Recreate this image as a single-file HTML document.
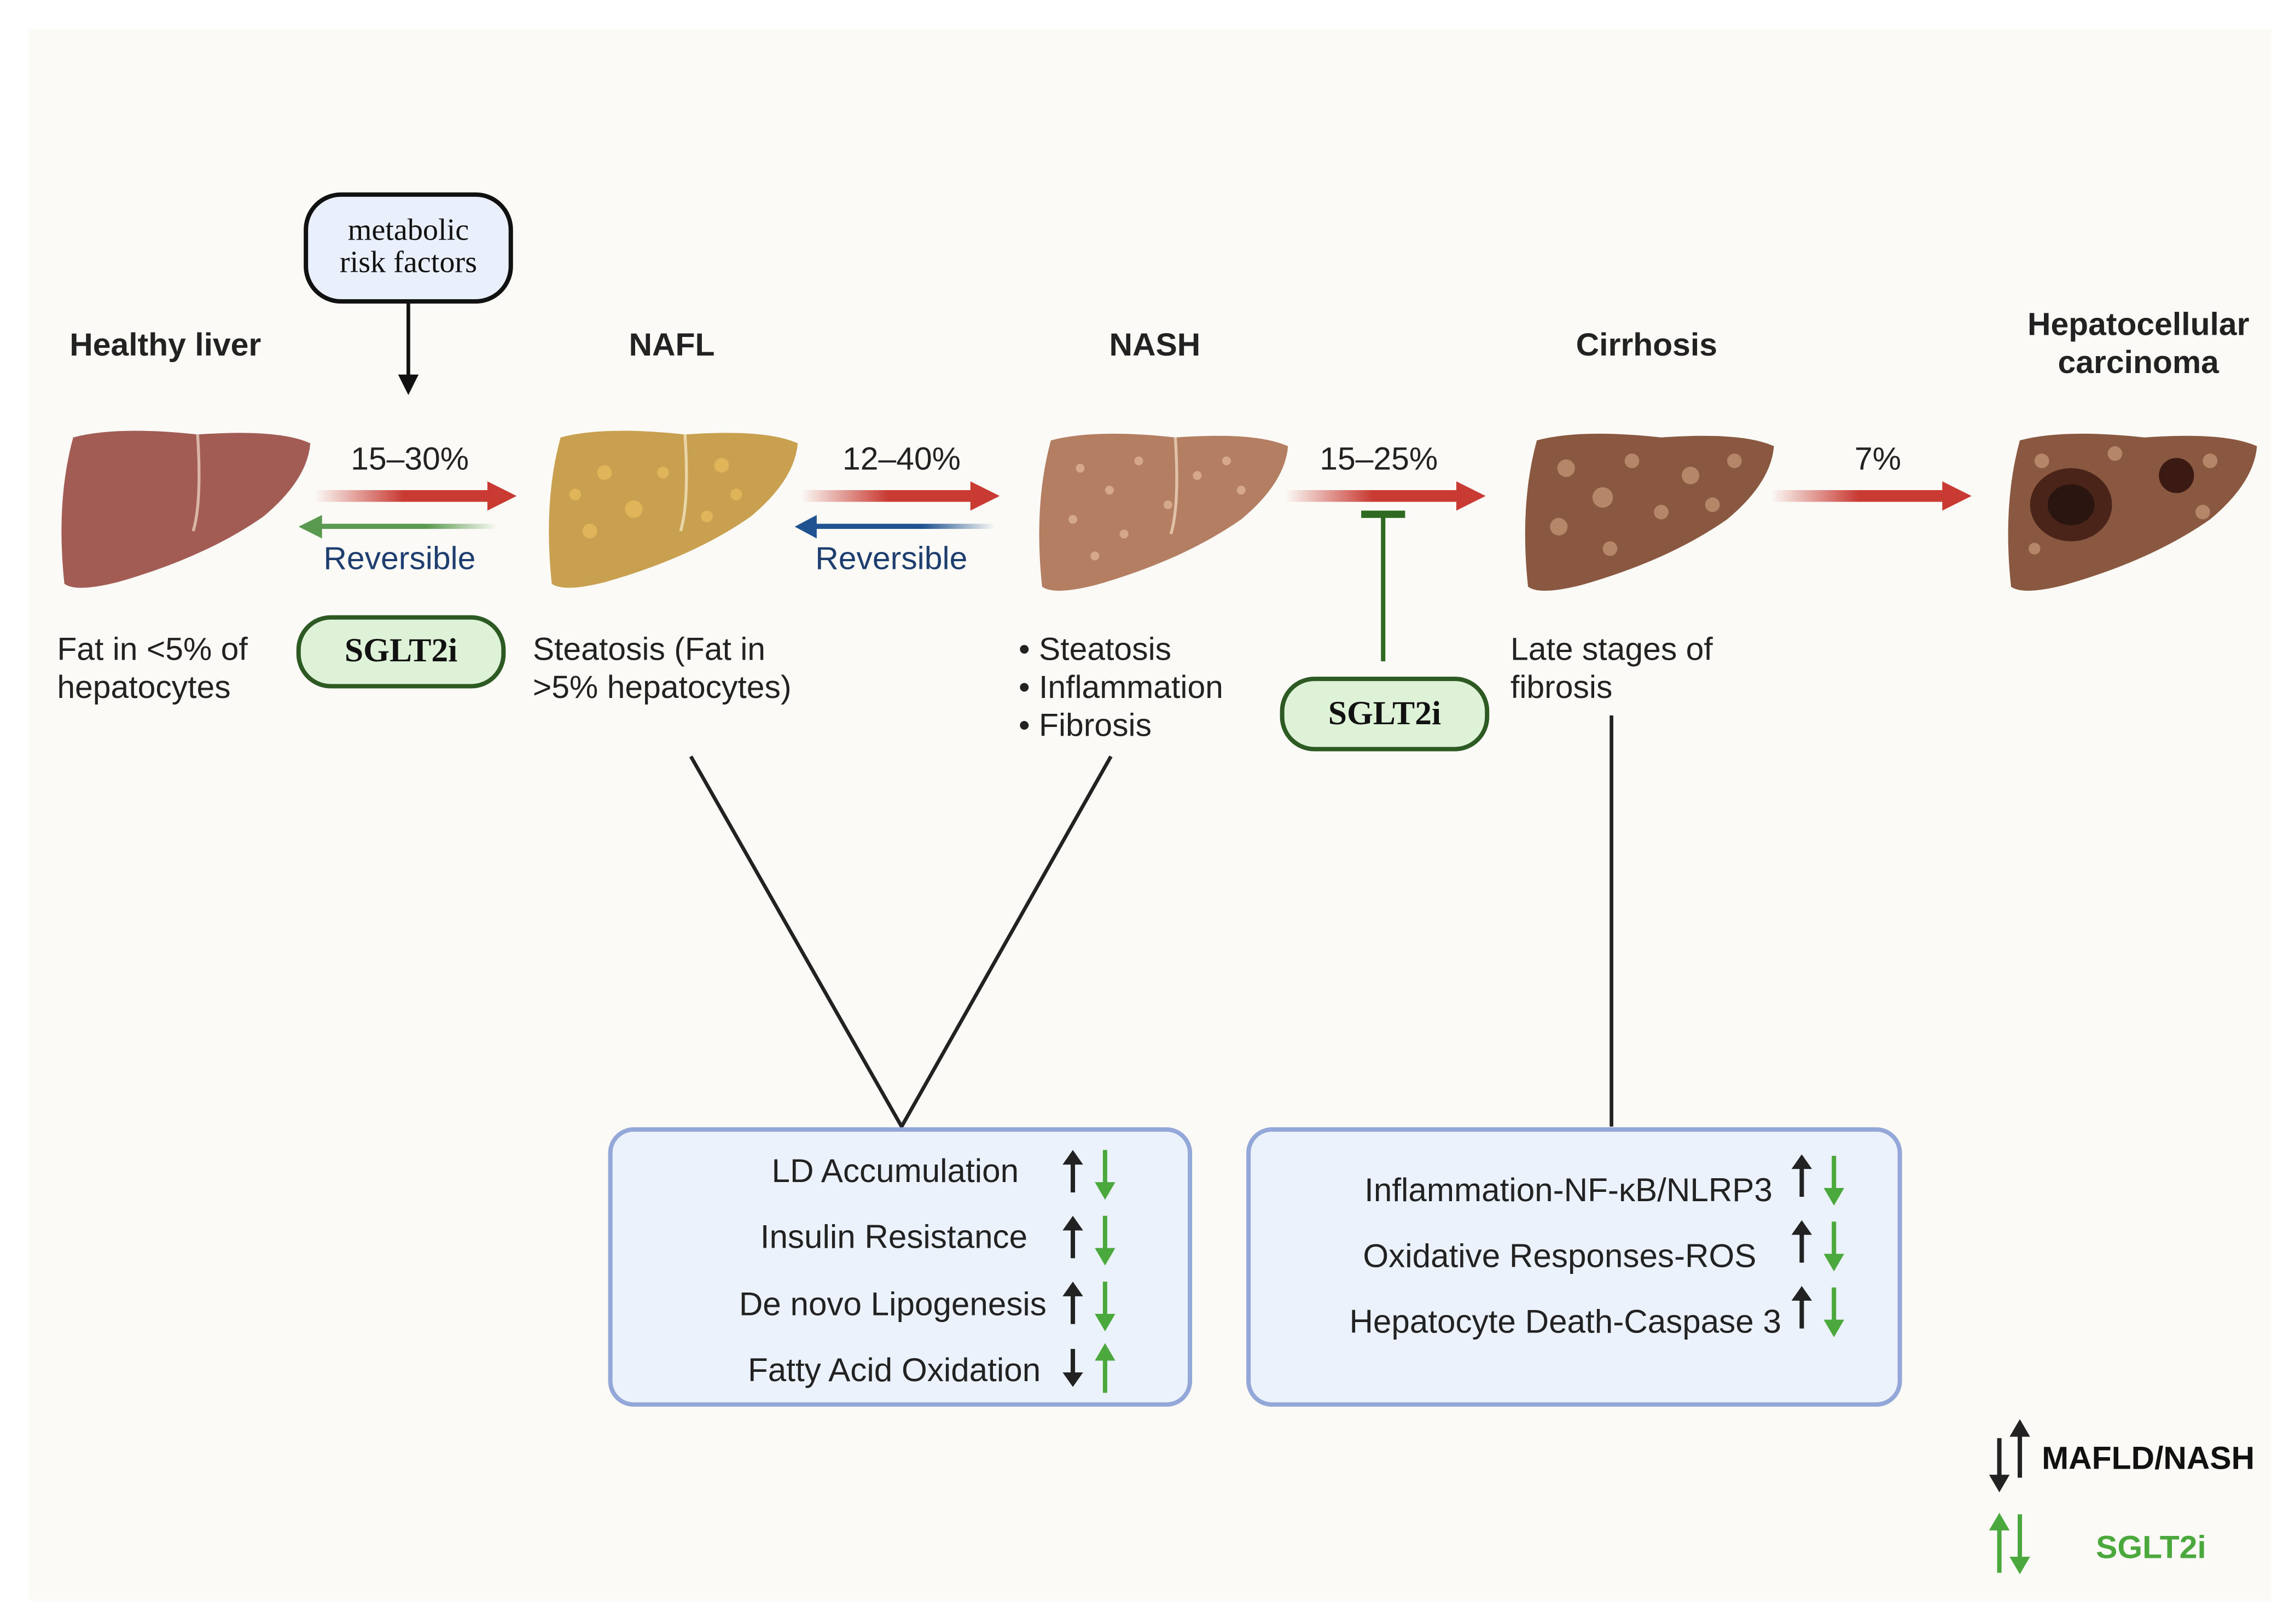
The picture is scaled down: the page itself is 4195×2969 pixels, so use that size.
<!DOCTYPE html>
<html><head><meta charset="utf-8"><style>
html,body{margin:0;padding:0;background:#fff;}
svg{display:block;}
text{font-family:"Liberation Sans",sans-serif;}
.s{font-family:"Liberation Serif",serif;}
</style></head><body>
<svg width="4195" height="2969" viewBox="0 0 1568 1110" preserveAspectRatio="none" xmlns="http://www.w3.org/2000/svg">
<defs>
<linearGradient id="rg" x1="0" x2="1"><stop offset="0" stop-color="#c83a32" stop-opacity="0"/><stop offset="0.5" stop-color="#c83a32"/><stop offset="1" stop-color="#c83a32"/></linearGradient>
<linearGradient id="gg" x1="0" x2="1"><stop offset="0" stop-color="#5a9a50"/><stop offset="0.6" stop-color="#5a9a50"/><stop offset="1" stop-color="#5a9a50" stop-opacity="0"/></linearGradient>
<linearGradient id="bg" x1="0" x2="1"><stop offset="0" stop-color="#1e5290"/><stop offset="0.6" stop-color="#1e5290"/><stop offset="1" stop-color="#1e5290" stop-opacity="0"/></linearGradient>
<path id="liver" d="M10,6 Q40,-2 95,4 Q150,0 172,10 Q170,35 140,60 Q100,88 40,105 Q12,112 4,106 Q-2,50 10,6 Z"/>
</defs>
<rect x="20" y="20" width="1532" height="1074" fill="#fbfaf6"/>

<g font-weight="bold" font-size="22" fill="#222" text-anchor="middle">
<text x="113" y="243">Healthy liver</text>
<text x="459" y="243">NAFL</text>
<text x="789" y="243">NASH</text>
<text x="1125" y="243">Cirrhosis</text>
<text x="1461" y="229">Hepatocellular</text>
<text x="1461" y="255">carcinoma</text>
</g>

<rect x="209" y="133" width="140" height="73" rx="24" fill="#e9f0fb" stroke="#111" stroke-width="3"/>
<text class="s" x="279" y="164" font-size="21" text-anchor="middle" fill="#111">metabolic</text>
<text class="s" x="279" y="186" font-size="21" text-anchor="middle" fill="#111">risk factors</text>
<line x1="279" y1="206" x2="279" y2="258" stroke="#111" stroke-width="2.5"/>
<polygon points="272,256 286,256 279,270" fill="#111"/>

<g transform="translate(40,293)"><use href="#liver" fill="#a35c54"/><path d="M95,4 Q98,50 92,70" stroke="#d9b6a8" stroke-width="2" fill="none"/></g>
<g transform="translate(373,293)"><use href="#liver" fill="#c9a050"/><path d="M95,4 Q98,50 92,70" stroke="#e8d6a8" stroke-width="2" fill="none"/>
<g fill="#e0b55a"><circle cx="40" cy="30" r="5"/><circle cx="60" cy="55" r="6"/><circle cx="120" cy="25" r="5"/><circle cx="130" cy="45" r="4"/><circle cx="30" cy="70" r="5"/><circle cx="80" cy="30" r="4"/><circle cx="110" cy="60" r="4"/><circle cx="20" cy="45" r="4"/></g></g>
<g transform="translate(708,295)"><use href="#liver" fill="#b47e62"/><path d="M95,4 Q98,50 92,70" stroke="#e0c2a8" stroke-width="2" fill="none"/>
<g fill="#d4a888"><circle cx="30" cy="25" r="3"/><circle cx="50" cy="40" r="3"/><circle cx="70" cy="20" r="3"/><circle cx="110" cy="30" r="3"/><circle cx="130" cy="20" r="3"/><circle cx="25" cy="60" r="3"/><circle cx="60" cy="70" r="3"/><circle cx="90" cy="50" r="3"/><circle cx="140" cy="40" r="3"/><circle cx="40" cy="85" r="3"/></g></g>
<g transform="translate(1040,295)"><use href="#liver" fill="#8a5840"/>
<g fill="#b68668"><circle cx="30" cy="25" r="6"/><circle cx="55" cy="45" r="7"/><circle cx="75" cy="20" r="5"/><circle cx="115" cy="30" r="6"/><circle cx="145" cy="20" r="5"/><circle cx="25" cy="65" r="6"/><circle cx="60" cy="80" r="5"/><circle cx="95" cy="55" r="5"/><circle cx="130" cy="50" r="5"/></g></g>
<g transform="translate(1370,295)"><use href="#liver" fill="#8a5840"/>
<g fill="#b68668"><circle cx="25" cy="20" r="5"/><circle cx="75" cy="15" r="5"/><circle cx="140" cy="20" r="5"/><circle cx="135" cy="55" r="5"/><circle cx="20" cy="80" r="4"/></g>
<ellipse cx="45" cy="50" rx="28" ry="25" fill="#4a2418"/><ellipse cx="45" cy="50" rx="16" ry="14" fill="#2a1510"/><ellipse cx="117" cy="30" rx="12" ry="12" fill="#3a1a12"/></g>

<g font-size="22" fill="#222" text-anchor="middle">
<text x="280" y="321">15–30%</text><text x="616" y="321">12–40%</text><text x="942" y="321">15–25%</text><text x="1283" y="321">7%</text>
</g>
<rect x="215" y="335" width="122" height="8" fill="url(#rg)"/><polygon points="333,329 353,339 333,349" fill="#c83a32"/>
<rect x="547" y="335" width="120" height="8" fill="url(#rg)"/><polygon points="663,329 683,339 663,349" fill="#c83a32"/>
<rect x="878" y="335" width="120" height="8" fill="url(#rg)"/><polygon points="995,329 1015,339 995,349" fill="#c83a32"/>
<rect x="1210" y="335" width="120" height="8" fill="url(#rg)"/><polygon points="1327,329 1347,339 1327,349" fill="#c83a32"/>
<rect x="218" y="358" width="122" height="3.5" fill="url(#gg)"/><polygon points="204,360 220,352 220,368" fill="#5a9a50"/>
<rect x="555" y="358" width="125" height="3.5" fill="url(#bg)"/><polygon points="543,360 558,352 558,368" fill="#1e5290"/>
<g font-size="22" fill="#1e3e70" text-anchor="middle"><text x="273" y="389">Reversible</text><text x="609" y="389">Reversible</text></g>

<rect x="930" y="349" width="30" height="5" fill="#2f6a22"/>
<line x1="945" y1="352" x2="945" y2="452" stroke="#2f6a22" stroke-width="3"/>

<rect x="204" y="422" width="140" height="47" rx="22" fill="#def2d8" stroke="#2d5a22" stroke-width="3"/>
<text class="s" x="274" y="452" font-size="23" font-weight="bold" text-anchor="middle" fill="#111">SGLT2i</text>
<rect x="876" y="464" width="140" height="48" rx="22" fill="#def2d8" stroke="#2d5a22" stroke-width="3"/>
<text class="s" x="946" y="495" font-size="23" font-weight="bold" text-anchor="middle" fill="#111">SGLT2i</text>

<g font-size="22" fill="#222">
<text x="39" y="451">Fat in &lt;5% of</text><text x="39" y="477">hepatocytes</text>
<text x="364" y="451">Steatosis (Fat in</text><text x="364" y="477">&gt;5% hepatocytes)</text>
<text x="696" y="451">• Steatosis</text><text x="696" y="477">• Inflammation</text><text x="696" y="503">• Fibrosis</text>
<text x="1032" y="451">Late stages of</text><text x="1032" y="477">fibrosis</text>
</g>

<polyline points="472,517 616,770 759,517" fill="none" stroke="#222" stroke-width="2.5"/>
<line x1="1101" y1="489" x2="1101" y2="770" stroke="#222" stroke-width="2.5"/>

<rect x="417" y="772" width="396" height="188" rx="16" fill="#ebf2fb" stroke="#93a8d8" stroke-width="3"/>
<rect x="853" y="772" width="445" height="188" rx="16" fill="#ebf2fb" stroke="#93a8d8" stroke-width="3"/>
<g font-size="22.5" fill="#222" text-anchor="end">
<text x="696" y="808">LD Accumulation</text><text x="702" y="853">Insulin Resistance</text><text x="715" y="899">De novo Lipogenesis</text><text x="711" y="944">Fatty Acid Oxidation</text>
<text x="1211" y="821">Inflammation-NF-κB/NLRP3</text><text x="1200" y="866">Oxidative Responses-ROS</text><text x="1217" y="911">Hepatocyte Death-Caspase 3</text>
</g>
<g stroke-width="3">
<g stroke="#222"><line x1="733" y1="790" x2="733" y2="815"/><line x1="733" y1="835" x2="733" y2="860"/><line x1="733" y1="880" x2="733" y2="905"/><line x1="733" y1="922" x2="733" y2="945"/>
<line x1="1231" y1="793" x2="1231" y2="818"/><line x1="1231" y1="838" x2="1231" y2="863"/><line x1="1231" y1="883" x2="1231" y2="908"/></g>
<g stroke="#4aa83c"><line x1="755" y1="786" x2="755" y2="810"/><line x1="755" y1="831" x2="755" y2="855"/><line x1="755" y1="876" x2="755" y2="900"/><line x1="755" y1="928" x2="755" y2="952"/>
<line x1="1253" y1="790" x2="1253" y2="814"/><line x1="1253" y1="835" x2="1253" y2="859"/><line x1="1253" y1="880" x2="1253" y2="904"/></g>
</g>
<g fill="#222"><polygon points="726,796 740,796 733,786"/><polygon points="726,841 740,841 733,831"/><polygon points="726,886 740,886 733,876"/><polygon points="726,938 740,938 733,948"/>
<polygon points="1224,799 1238,799 1231,789"/><polygon points="1224,844 1238,844 1231,834"/><polygon points="1224,889 1238,889 1231,879"/></g>
<g fill="#4aa83c"><polygon points="748,808 762,808 755,820"/><polygon points="748,853 762,853 755,865"/><polygon points="748,898 762,898 755,910"/><polygon points="748,930 762,930 755,918"/>
<polygon points="1246,812 1260,812 1253,824"/><polygon points="1246,857 1260,857 1253,869"/><polygon points="1246,902 1260,902 1253,914"/></g>

<g stroke-width="3"><line x1="1366" y1="983" x2="1366" y2="1010" stroke="#222"/><line x1="1380" y1="980" x2="1380" y2="1010" stroke="#222"/>
<line x1="1366" y1="1044" x2="1366" y2="1075" stroke="#4aa83c"/><line x1="1380" y1="1035" x2="1380" y2="1065" stroke="#4aa83c"/></g>
<polygon points="1359,1008 1373,1008 1366,1020" fill="#222"/><polygon points="1373,982 1387,982 1380,970" fill="#222"/>
<polygon points="1359,1046 1373,1046 1366,1034" fill="#4aa83c"/><polygon points="1373,1064 1387,1064 1380,1076" fill="#4aa83c"/>
<text x="1395" y="1004" font-size="22" font-weight="bold" fill="#111">MAFLD/NASH</text>
<text x="1432" y="1065" font-size="22" font-weight="bold" fill="#4aa83c">SGLT2i</text>
</svg>
</body></html>
